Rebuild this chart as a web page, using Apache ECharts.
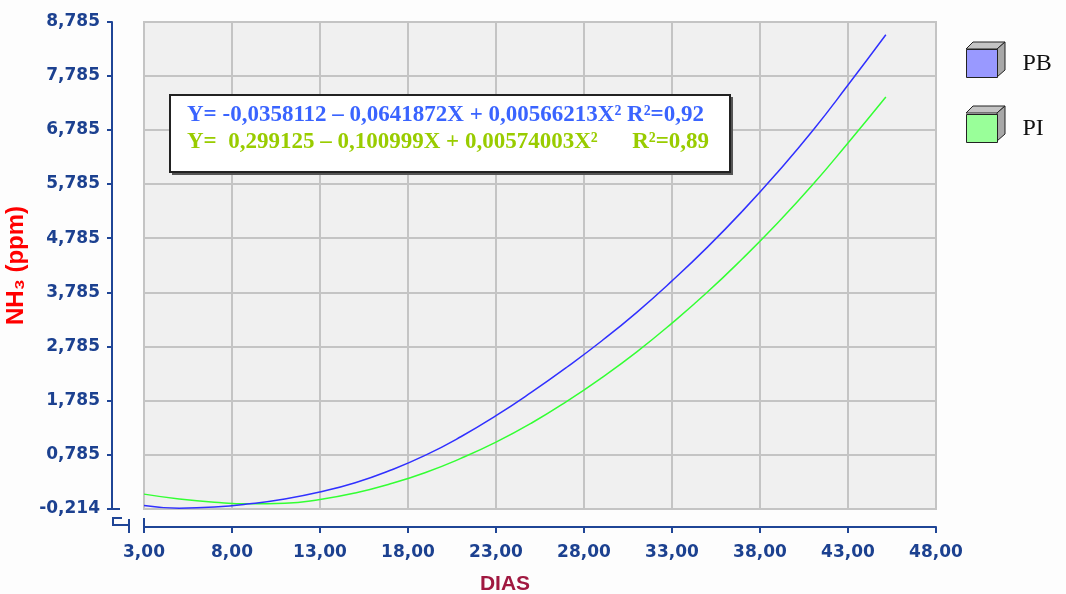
<!DOCTYPE html>
<html>
<head>
<meta charset="utf-8">
<script src="https://cdn.jsdelivr.net/npm/echarts@6/dist/echarts.min.js"></script>
<style>
html,body{margin:0;padding:0;background:#fdfdfd;}
#chart{width:1066px;height:594px;}
</style>
</head>
<body>
<div id="chart"></div>
<script>
// ---- data ----
const dias = [3, 5, 7, 9, 11, 13, 15, 17, 19, 21, 23, 25, 27, 29, 31, 33, 35, 37, 39, 41, 43, 45.15];
const pbValues = [-0.15, -0.20, -0.18, -0.12, -0.03, 0.10, 0.27, 0.50, 0.78, 1.12, 1.51, 1.94, 2.40, 2.89, 3.42, 4.00, 4.62, 5.29, 6.01, 6.78, 7.62, 8.55];
const piValues = [0.06, -0.03, -0.09, -0.12, -0.11, -0.04, 0.08, 0.25, 0.46, 0.72, 1.02, 1.37, 1.77, 2.21, 2.69, 3.22, 3.79, 4.41, 5.07, 5.78, 6.55, 7.40];
const yTickLabels = ['-0,214', '0,785', '1,785', '2,785', '3,785', '4,785', '5,785', '6,785', '7,785', '8,785'];
const xTickLabels = ['3,00', '8,00', '13,00', '18,00', '23,00', '28,00', '33,00', '38,00', '43,00', '48,00'];
const seriesNames = ['PB', 'PI'];
const eqPB = 'Y= -0,0358112 \u2013 0,0641872X + 0,00566213X\u00B2 R\u00B2=0,92';
const eqPI = 'Y=  0,299125 \u2013 0,100999X + 0,00574003X\u00B2      R\u00B2=0,89';

const yMin = -0.215, yMax = 8.785, xMin = 3, xMax = 48;
const axisBlue = '#1f4596';
const labelBlue = '#1c4190';

const chart = echarts.init(document.getElementById('chart'), null, {renderer: 'canvas'});

function cube(y0) {
  // gray top and right faces of the 3D legend cube
  return [
    {type: 'polygon', shape: {points: [[966, y0], [973, y0 - 7], [1005, y0 - 7], [997, y0]]},
     style: {fill: '#c4c4c4', stroke: '#222', lineWidth: 1}},
    {type: 'polygon', shape: {points: [[997, y0], [1005, y0 - 7], [1005, y0 + 21], [997, y0 + 28]]},
     style: {fill: '#a8a8a8', stroke: '#222', lineWidth: 1}}
  ];
}

const option = {
  backgroundColor: '#fdfdfd',
  animation: false,
  grid: {
    left: 144, top: 22, right: 130, bottom: 85,
    show: true, backgroundColor: '#f0f0f0', borderColor: '#c4c4c4', borderWidth: 2,
    outerBoundsMode: 'none'
  },
  legend: {
    orient: 'vertical', left: 966, top: 49, padding: 0,
    itemWidth: 31, itemHeight: 28, itemGap: 36,
    icon: 'rect',
    data: [
      {name: seriesNames[0], itemStyle: {color: '#9999ff', borderColor: '#222', borderWidth: 1}},
      {name: seriesNames[1], itemStyle: {color: '#99ff99', borderColor: '#222', borderWidth: 1}}
    ],
    textStyle: {fontFamily: 'Liberation Serif', fontSize: 24, color: '#111', padding: [0, 0, 0, 20]}
  },
  xAxis: {
    type: 'value', min: xMin, max: xMax, interval: 5,
    offset: 18,
    axisLine: {show: true, onZero: false, lineStyle: {color: axisBlue, width: 2}},
    axisTick: {show: true, length: 6, lineStyle: {color: axisBlue, width: 2}},
    axisLabel: {
      margin: 17, color: labelBlue, fontFamily: 'DejaVu Sans', fontWeight: 'bold', fontSize: 17,
      formatter: v => xTickLabels[Math.round((v - xMin) / 5)] || ''
    },
    splitLine: {show: true, lineStyle: {color: '#c4c4c4', width: 2}},
    name: 'DIAS', nameLocation: 'middle', nameGap: 47,
    nameTextStyle: {color: '#a01840', fontFamily: 'Liberation Sans', fontWeight: 'bold', fontSize: 21, padding: [0, 70, 0, 0]}
  },
  yAxis: {
    type: 'value', min: yMin, max: yMax, interval: 1,
    offset: 32,
    axisLine: {show: true, onZero: false, lineStyle: {color: axisBlue, width: 2}},
    axisTick: {show: true, length: 5, lineStyle: {color: axisBlue, width: 2}},
    axisLabel: {
      margin: 12, color: labelBlue, fontFamily: 'DejaVu Sans', fontWeight: 'bold', fontSize: 17,
      formatter: v => yTickLabels[Math.round(v - yMin)] || ''
    },
    splitLine: {show: true, lineStyle: {color: '#c4c4c4', width: 2}},
    name: 'NH\u2083 (ppm)', nameLocation: 'middle', nameGap: 80, nameRotate: 90,
    nameTextStyle: {color: '#ff0000', fontFamily: 'Liberation Sans', fontWeight: 'bold', fontSize: 24}
  },
  series: [
    {
      name: seriesNames[0], type: 'line', smooth: 0.5, showSymbol: false, symbol: 'none',
      data: dias.map((d, i) => [d, pbValues[i]]),
      lineStyle: {color: '#3030ff', width: 1.5}, itemStyle: {color: '#9999ff'}, z: 3
    },
    {
      name: seriesNames[1], type: 'line', smooth: 0.5, showSymbol: false, symbol: 'none',
      data: dias.map((d, i) => [d, piValues[i]]),
      lineStyle: {color: '#33ff33', width: 1.5}, itemStyle: {color: '#99ff99'}, z: 2
    }
  ],
  graphic: [
    // equation box
    {type: 'rect', shape: {x: 172, y: 97, width: 561, height: 78}, style: {fill: '#555'}, z: 10},
    {type: 'rect', shape: {x: 170, y: 95, width: 560, height: 77}, style: {fill: '#ffffff', stroke: '#222', lineWidth: 2}, z: 11},
    {type: 'text', left: 187, top: 104, z: 12,
     style: {text: eqPB, fill: '#3a64ff', font: 'bold 23px "Liberation Serif"'}},
    {type: 'text', left: 187, top: 131, z: 12,
     style: {text: eqPI, fill: '#99cc00', font: 'bold 23px "Liberation Serif"'}},
    // axis break marks
    {type: 'polyline', shape: {points: [[108, 509], [120, 509]]}, style: {stroke: axisBlue, lineWidth: 2}, z: 12},
    {type: 'polyline', shape: {points: [[122, 518], [113, 518], [113, 525], [129, 525]]}, style: {stroke: axisBlue, lineWidth: 2, fill: null}, z: 12},
    {type: 'polyline', shape: {points: [[129, 519], [129, 533]]}, style: {stroke: axisBlue, lineWidth: 2}, z: 12},
    {type: 'polyline', shape: {points: [[144, 518], [144, 533]]}, style: {stroke: axisBlue, lineWidth: 2}, z: 12}
  ].concat(cube(49), cube(113))
};
chart.setOption(option);
</script>
</body>
</html>
